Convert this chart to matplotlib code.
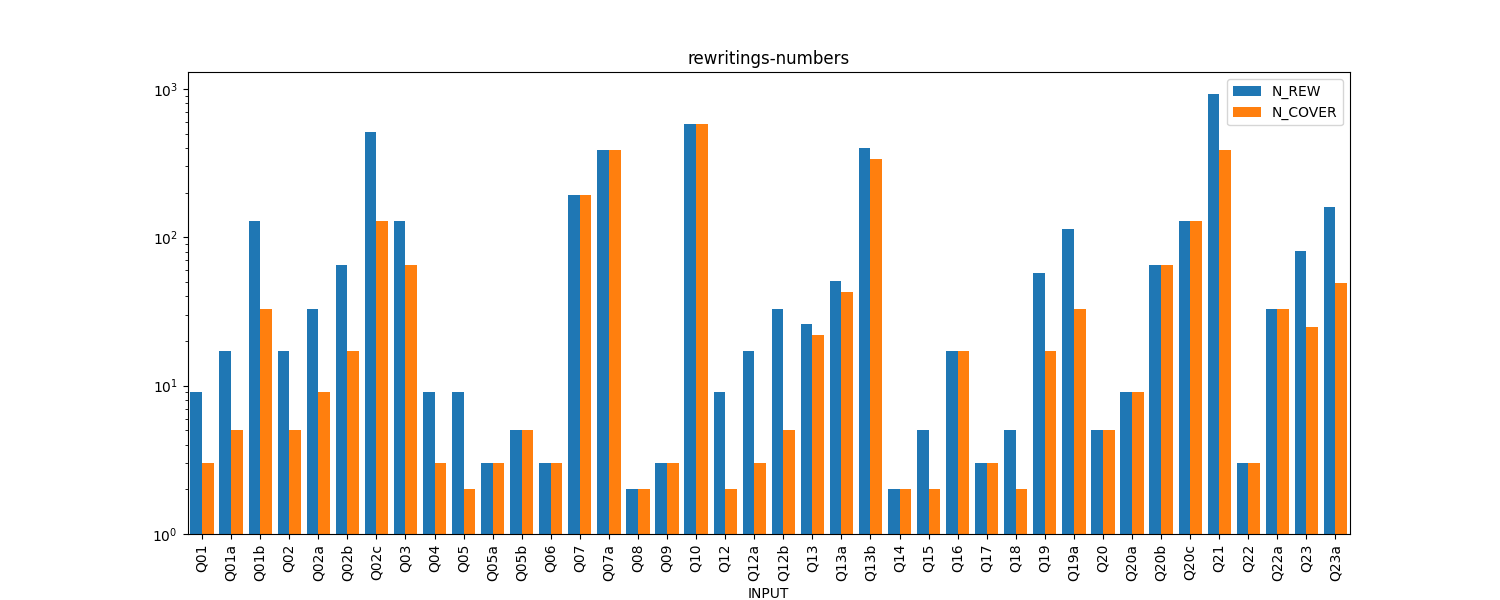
import matplotlib
matplotlib.use("Agg")
import matplotlib.pyplot as plt
import numpy as np

categories = ["Q01","Q01a","Q01b","Q02","Q02a","Q02b","Q02c","Q03","Q04","Q05","Q05a","Q05b","Q06","Q07","Q07a","Q08","Q09","Q10","Q12","Q12a","Q12b","Q13","Q13a","Q13b","Q14","Q15","Q16","Q17","Q18","Q19","Q19a","Q20","Q20a","Q20b","Q20c","Q21","Q22","Q22a","Q23","Q23a"]
n_rew = [9,17,129,17,33,65,513,129,9,9,3,5,3,193,385,2,3,577,9,17,33,26,51,400,2,5,17,3,5,57,113,5,9,65,129,929,3,33,81,161]
n_cover = [3,5,33,5,9,17,129,65,3,2,3,5,3,193,385,2,3,577,2,3,5,22,43,337,2,2,17,3,2,17,33,5,9,65,129,385,3,33,25,49]

fig, ax = plt.subplots(figsize=(15, 6), dpi=100)
x = np.arange(len(categories))
w = 0.4
ax.bar(x - w/2, n_rew, w, color="#1f77b4", label="N_REW")
ax.bar(x + w/2, n_cover, w, color="#ff7f0e", label="N_COVER")
ax.set_yscale("log")
ax.set_ylim(1, 1300)
ax.set_xlim(-0.5, len(categories) - 0.5)
ax.set_xticks(x)
ax.set_xticklabels(categories, rotation=90)
ax.set_xlabel("INPUT")
ax.set_title("rewritings-numbers")
ax.legend(loc="upper right")
fig.savefig("out.png")
